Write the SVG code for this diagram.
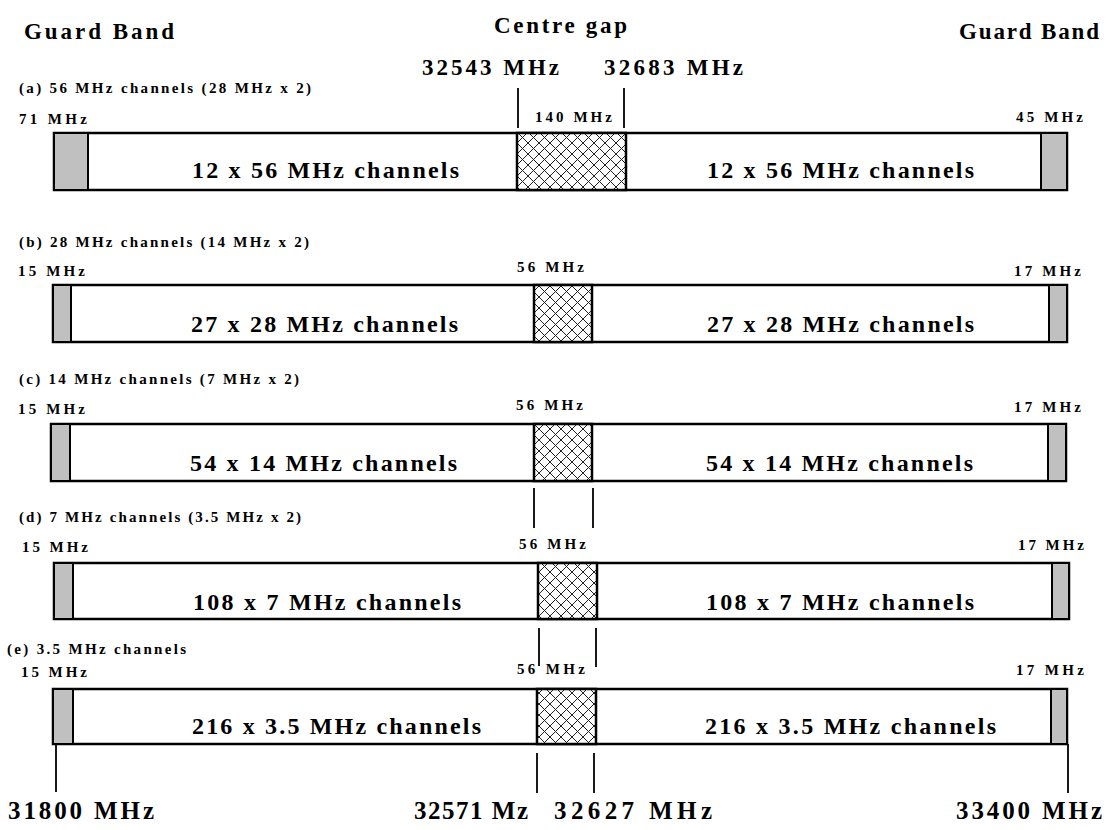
<svg xmlns="http://www.w3.org/2000/svg" width="1112" height="830" viewBox="0 0 1112 830">
<defs>
<pattern id="hatch" patternUnits="userSpaceOnUse" width="11" height="11">
<rect width="11" height="11" fill="#fff"/>
<path d="M0,0 L11,11 M11,0 L0,11" stroke="#222" stroke-width="1" fill="none"/>
</pattern>
<style>
text{font-family:"Liberation Serif","Times New Roman",serif;font-weight:bold;fill:#000}
.h{font-size:23px}
.s{font-size:15px}
.m{font-size:24px}
.c{font-size:25px}
.bar{fill:#fff;stroke:#000;stroke-width:2.5}
.g{fill:#c0c0c0;stroke:#000;stroke-width:2}
.gap{fill:url(#hatch);stroke:#000;stroke-width:2.5}
.t{stroke:#000;stroke-width:1.8;fill:none}
</style>
</defs>
<rect width="1112" height="830" fill="#fff"/>

<g id="headers">
<text class="h" x="24" y="39" textLength="150" lengthAdjust="spacing">Guard Band</text>
<text class="h" x="494" y="33" textLength="133" lengthAdjust="spacing">Centre gap</text>
<text class="h" x="959" y="39" textLength="140" lengthAdjust="spacing">Guard Band</text>
<text class="h" x="422" y="75" textLength="137" lengthAdjust="spacing">32543 MHz</text>
<text class="h" x="604" y="75" textLength="139" lengthAdjust="spacing">32683 MHz</text>
</g>

<g id="row-a">
<text class="s" x="19" y="93" textLength="292" lengthAdjust="spacing">(a) 56 MHz channels (28 MHz x 2)</text>
<text class="s" x="19" y="124" textLength="68" lengthAdjust="spacing">71 MHz</text>
<text class="s" x="535" y="122" textLength="77" lengthAdjust="spacing">140 MHz</text>
<text class="s" x="1016" y="122" textLength="67" lengthAdjust="spacing">45 MHz</text>
<rect class="bar" x="54" y="133" width="1013" height="57"/>
<rect class="g" x="54" y="133" width="34" height="57"/>
<rect class="g" x="1041" y="133" width="26" height="57"/>
<rect class="gap" x="517" y="133" width="109" height="57"/>
<text class="m" x="192" y="178" textLength="267" lengthAdjust="spacing">12 x 56 MHz channels</text>
<text class="m" x="707" y="178" textLength="267" lengthAdjust="spacing">12 x 56 MHz channels</text>
</g>

<g id="row-b">
<text class="s" x="19" y="247" textLength="290" lengthAdjust="spacing">(b) 28 MHz channels (14 MHz x 2)</text>
<text class="s" x="18" y="276" textLength="67" lengthAdjust="spacing">15 MHz</text>
<text class="s" x="517" y="272" textLength="67" lengthAdjust="spacing">56 MHz</text>
<text class="s" x="1014" y="276" textLength="67" lengthAdjust="spacing">17 MHz</text>
<rect class="bar" x="53" y="285" width="1014" height="57"/>
<rect class="g" x="53" y="285" width="18" height="57"/>
<rect class="g" x="1049" y="285" width="18" height="57"/>
<rect class="gap" x="534" y="285" width="58" height="57"/>
<text class="m" x="191" y="332" textLength="267" lengthAdjust="spacing">27 x 28 MHz channels</text>
<text class="m" x="707" y="332" textLength="267" lengthAdjust="spacing">27 x 28 MHz channels</text>
</g>

<g id="row-c">
<text class="s" x="19" y="384" textLength="280" lengthAdjust="spacing">(c) 14 MHz channels (7 MHz x 2)</text>
<text class="s" x="18" y="414" textLength="67" lengthAdjust="spacing">15 MHz</text>
<text class="s" x="516" y="410" textLength="67" lengthAdjust="spacing">56 MHz</text>
<text class="s" x="1014" y="412" textLength="67" lengthAdjust="spacing">17 MHz</text>
<rect class="bar" x="51" y="424" width="1015" height="57"/>
<rect class="g" x="51" y="424" width="19" height="57"/>
<rect class="g" x="1048" y="424" width="18" height="57"/>
<rect class="gap" x="534" y="424" width="58" height="57"/>
<text class="m" x="190" y="471" textLength="267" lengthAdjust="spacing">54 x 14 MHz channels</text>
<text class="m" x="706" y="471" textLength="267" lengthAdjust="spacing">54 x 14 MHz channels</text>
</g>

<g id="row-d">
<text class="s" x="19" y="522" textLength="282" lengthAdjust="spacing">(d) 7 MHz channels (3.5 MHz x 2)</text>
<text class="s" x="22" y="552" textLength="66" lengthAdjust="spacing">15 MHz</text>
<text class="s" x="519" y="549" textLength="67" lengthAdjust="spacing">56 MHz</text>
<text class="s" x="1018" y="550" textLength="66" lengthAdjust="spacing">17 MHz</text>
<rect class="bar" x="54" y="563" width="1015" height="56"/>
<rect class="g" x="54" y="563" width="19" height="56"/>
<rect class="g" x="1052" y="563" width="17" height="56"/>
<rect class="gap" x="538" y="563" width="59" height="56"/>
<text class="m" x="193" y="610" textLength="268" lengthAdjust="spacing">108 x 7 MHz channels</text>
<text class="m" x="706" y="610" textLength="268" lengthAdjust="spacing">108 x 7 MHz channels</text>
</g>

<g id="row-e">
<text class="s" x="7" y="654" textLength="179" lengthAdjust="spacing">(e) 3.5 MHz channels</text>
<text class="s" x="21" y="677" textLength="66" lengthAdjust="spacing">15 MHz</text>
<text class="s" x="517" y="674" textLength="68" lengthAdjust="spacing">56 MHz</text>
<text class="s" x="1016" y="675" textLength="68" lengthAdjust="spacing">17 MHz</text>
<rect class="bar" x="53" y="689" width="1014" height="55"/>
<rect class="g" x="53" y="689" width="20" height="55"/>
<rect class="g" x="1051" y="689" width="16" height="55"/>
<rect class="gap" x="537" y="689" width="59" height="55"/>
<text class="m" x="192" y="734" textLength="289" lengthAdjust="spacing">216 x 3.5 MHz channels</text>
<text class="m" x="705" y="734" textLength="291" lengthAdjust="spacing">216 x 3.5 MHz channels</text>
</g>

<g id="connectors">
<line class="t" x1="518" y1="88" x2="518" y2="128"/>
<line class="t" x1="624" y1="88" x2="624" y2="128"/>
<line class="t" x1="534" y1="488" x2="534" y2="528"/>
<line class="t" x1="593" y1="488" x2="593" y2="528"/>
<line class="t" x1="539" y1="628" x2="539" y2="666"/>
<line class="t" x1="596" y1="628" x2="596" y2="667"/>
<line class="t" x1="56" y1="744" x2="56" y2="792"/>
<line class="t" x1="537" y1="753" x2="537" y2="793"/>
<line class="t" x1="594" y1="753" x2="594" y2="793"/>
<line class="t" x1="1068" y1="744" x2="1068" y2="793"/>
</g>

<g id="bottom-labels">
<text class="c" x="8" y="819" textLength="146" lengthAdjust="spacing">31800 MHz</text>
<text class="c" x="414" y="819" textLength="114" lengthAdjust="spacing">32571 Mz</text>
<text class="c" x="554" y="819" textLength="158" lengthAdjust="spacing">32627 MHz</text>
<text class="c" x="956" y="819" textLength="146" lengthAdjust="spacing">33400 MHz</text>
</g>
</svg>
